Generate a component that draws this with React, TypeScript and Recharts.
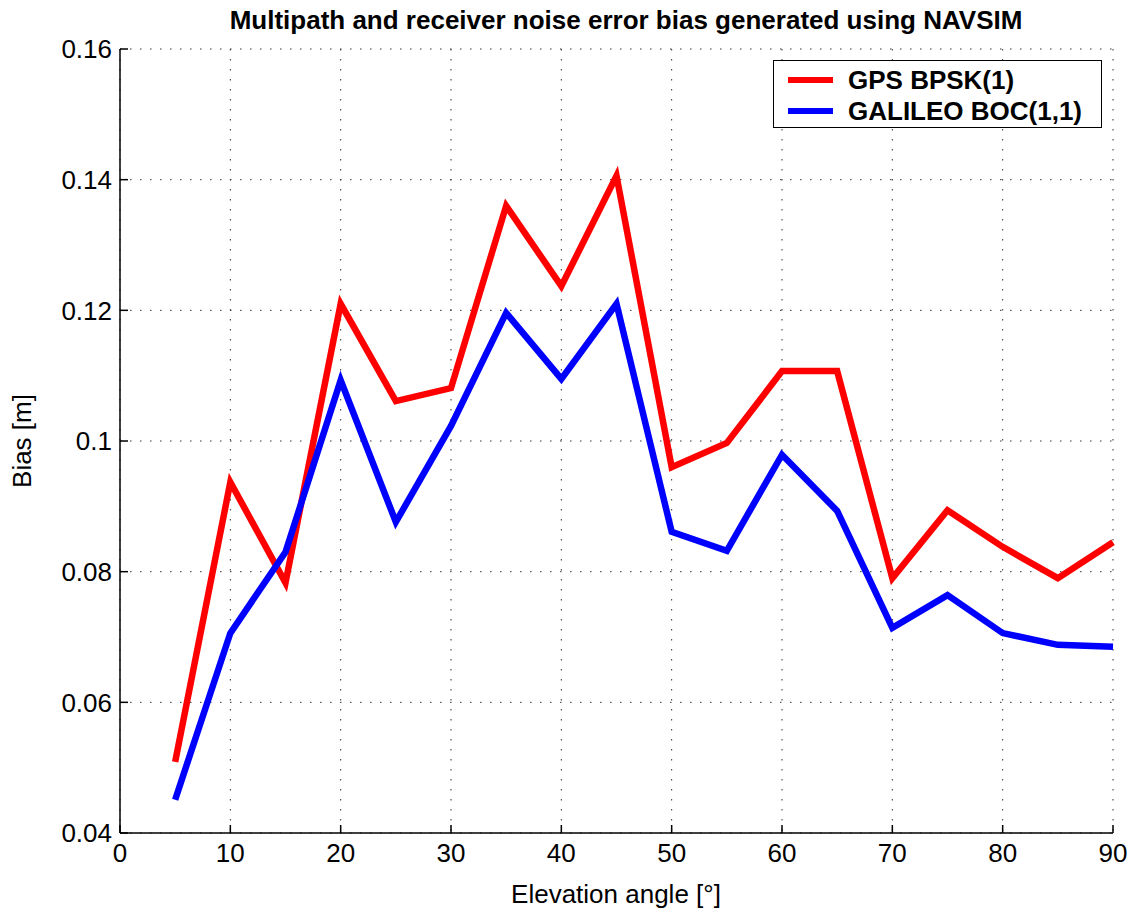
import { LineChart, Line, XAxis, YAxis, CartesianGrid } from "recharts"

const angles = [5, 10, 15, 20, 25, 30, 35, 40, 45, 50, 55, 60, 65, 70, 75, 80, 85, 90]
const gpsBias = [0.0509, 0.0937, 0.0783, 0.121, 0.1061, 0.1081, 0.136, 0.1237, 0.1406, 0.096, 0.0997, 0.1107, 0.1107, 0.079, 0.0894, 0.0838, 0.079, 0.0845]
const galileoBias = [0.0451, 0.0706, 0.083, 0.1093, 0.0876, 0.1023, 0.1196, 0.1095, 0.121, 0.0861, 0.0832, 0.0979, 0.0893, 0.0714, 0.0764, 0.0706, 0.0688, 0.0685]
const xTicks = [0, 10, 20, 30, 40, 50, 60, 70, 80, 90]
const yTicks = [0.04, 0.06, 0.08, 0.1, 0.12, 0.14, 0.16]

const data = angles.map((a, i) => ({ angle: a, gps: gpsBias[i], galileo: galileoBias[i] }))

const font = '"Liberation Sans", Arial, Helvetica, sans-serif'
const tickStyle = { fontSize: 26, fill: "#000", fontFamily: font }

export default function App() {
  return (
    <div style={{ position: "absolute", left: 0, top: 0, width: 1136, height: 912, background: "#fff", fontFamily: font }}>
      <div style={{ position: "absolute", left: 206, width: 840, top: 4, textAlign: "center", fontSize: 26, fontWeight: "bold", lineHeight: "32px" }}>
        Multipath and receiver noise error bias generated using NAVSIM
      </div>
      <LineChart width={1136} height={912} data={data} margin={{ top: 49, right: 23, left: 0, bottom: 0 }}>
        <CartesianGrid stroke="#333" strokeDasharray="1.5 8.5" strokeWidth={1} horizontal vertical />
        <XAxis
          dataKey="angle"
          type="number"
          domain={[0, 90]}
          ticks={xTicks}
          height={79}
          tick={tickStyle}
          tickSize={-8}
          tickMargin={19}
          stroke="#000"
          strokeWidth={1.5}
        />
        <XAxis
          xAxisId="top"
          orientation="top"
          dataKey="angle"
          type="number"
          domain={[0, 90]}
          ticks={xTicks}
          height={0}
          tickFormatter={() => ""}
          tickSize={-8}
          stroke="#000"
          strokeWidth={1.5}
        />
        <YAxis
          type="number"
          domain={[0.04, 0.16]}
          ticks={yTicks}
          width={120}
          tick={tickStyle}
          tickSize={-8}
          tickMargin={16}
          tickFormatter={(v: number) => String(Number(v.toFixed(2)))}
          stroke="#000"
          strokeWidth={1.5}
        />
        <YAxis
          yAxisId="right"
          orientation="right"
          type="number"
          domain={[0.04, 0.16]}
          ticks={yTicks}
          width={0}
          tickFormatter={() => ""}
          tickSize={-8}
          stroke="#000"
          strokeWidth={1.5}
        />
        <Line
          dataKey="gps"
          name="GPS BPSK(1)"
          stroke="#ff0000"
          strokeWidth={6.5}
          strokeLinejoin="miter"
          dot={false}
          activeDot={false}
          isAnimationActive={false}
          type="linear"
        />
        <Line
          dataKey="galileo"
          name="GALILEO BOC(1,1)"
          stroke="#0000ff"
          strokeWidth={6.5}
          strokeLinejoin="miter"
          dot={false}
          activeDot={false}
          isAnimationActive={false}
          type="linear"
        />
      </LineChart>
      <div style={{ position: "absolute", left: 480, width: 272, top: 878, textAlign: "center", fontSize: 26, lineHeight: "32px" }}>
        Elevation angle [°]
      </div>
      <div
        style={{
          position: "absolute",
          left: 22,
          top: 441,
          transform: "translate(-50%, -50%) rotate(-90deg)",
          fontSize: 26,
          lineHeight: "32px",
          whiteSpace: "nowrap",
        }}
      >
        Bias [m]
      </div>
      <div
        style={{
          position: "absolute",
          left: 773,
          top: 60,
          width: 327,
          height: 66,
          border: "1.5px solid #000",
          background: "#fff",
          fontSize: 26,
          fontWeight: "bold",
        }}
      >
        {[
          { label: "GPS BPSK(1)", color: "#ff0000" },
          { label: "GALILEO BOC(1,1)", color: "#0000ff" },
        ].map((l, i) => (
          <div key={l.label} style={{ position: "absolute", left: 14, top: 4 + i * 31, height: 30, display: "flex", alignItems: "center", whiteSpace: "nowrap" }}>
            <span style={{ display: "inline-block", width: 45, height: 6, background: l.color, marginRight: 15 }} />
            {l.label}
          </div>
        ))}
      </div>
    </div>
  )
}
